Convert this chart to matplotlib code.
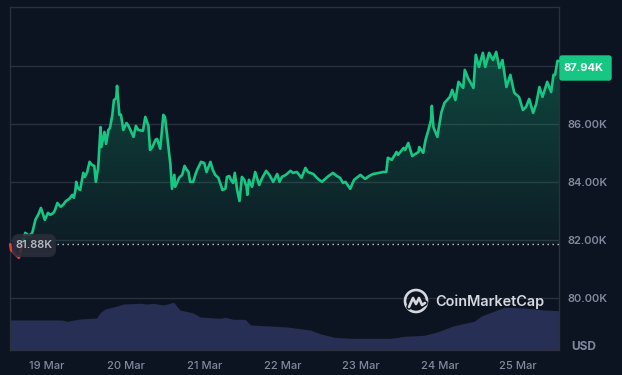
import numpy as np
import matplotlib
matplotlib.use("Agg")
import matplotlib.pyplot as plt
from matplotlib.patches import FancyBboxPatch, Rectangle, Arc

# time in days of March, price in thousand USD
days = [18.53, 18.54, 18.64, 18.68, 18.72, 18.77, 18.81, 18.85, 18.89, 18.92, 18.95, 18.97,
        19.01, 19.04, 19.08, 19.10, 19.13, 19.17, 19.20, 19.24, 19.28, 19.32, 19.34, 19.36,
        19.37, 19.39, 19.42, 19.46, 19.48, 19.51, 19.54, 19.57, 19.60, 19.62, 19.65, 19.68,
        19.69, 19.73, 19.75, 19.78, 19.80, 19.83, 19.85, 19.88, 19.89, 19.92, 19.94, 19.97,
        20.01, 20.03, 20.06, 20.10, 20.13, 20.16, 20.22, 20.25, 20.29, 20.31, 20.34, 20.38,
        20.40, 20.44, 20.48, 20.50, 20.53, 20.57, 20.59, 20.62, 20.63, 20.66, 20.68, 20.72,
        20.75, 20.77, 20.80, 20.82, 20.86, 20.89, 20.91, 20.96, 21.00, 21.03, 21.08, 21.11,
        21.14, 21.18, 21.22, 21.23, 21.27, 21.29, 21.32, 21.34, 21.37, 21.39, 21.42, 21.45,
        21.48, 21.51, 21.54, 21.55, 21.57, 21.61, 21.65, 21.68, 21.70, 21.74, 21.79, 21.83,
        21.88, 21.93, 21.96, 21.99, 22.04, 22.10, 22.13, 22.18, 22.24, 22.29, 22.32, 22.39,
        22.45, 22.50, 22.57, 22.64, 22.69, 22.73, 22.77, 22.80, 22.86, 22.91, 22.99, 23.05,
        23.10, 23.15, 23.23, 23.28, 23.32, 23.34, 23.39, 23.45, 23.47, 23.54, 23.56, 23.60,
        23.65, 23.73, 23.74, 23.79, 23.82, 23.85, 23.89, 23.90, 23.92, 23.97, 23.99, 24.02,
        24.06, 24.13, 24.16, 24.20, 24.24, 24.27, 24.30, 24.32, 24.36, 24.43, 24.46, 24.50,
        24.55, 24.58, 24.63, 24.68, 24.72, 24.76, 24.80, 24.85, 24.90, 24.95, 25.01, 25.06,
        25.10, 25.14, 25.19, 25.23, 25.27, 25.31, 25.37, 25.42, 25.45, 25.47, 25.50, 25.52]
prices = [81.85, 81.67, 81.40, 81.85, 82.26, 82.16, 82.26, 82.71, 82.91, 83.12, 82.88, 82.71,
          82.95, 82.88, 82.95, 83.05, 83.29, 83.16, 83.22, 83.36, 83.43, 83.57, 83.47, 83.74,
          84.02, 83.81, 83.74, 84.33, 84.19, 84.36, 84.71, 84.60, 84.57, 84.02, 84.53, 85.91,
          85.22, 85.74, 85.33, 85.81, 85.88, 86.33, 86.84, 86.91, 87.33, 86.33, 86.33, 85.81,
          86.05, 85.98, 85.81, 85.57, 85.95, 85.81, 85.78, 86.26, 85.95, 85.12, 85.22, 85.47,
          85.50, 85.16, 86.33, 86.26, 85.57, 84.60, 83.78, 84.26, 83.85, 84.02, 84.16, 84.26,
          84.57, 84.47, 84.36, 84.02, 84.02, 84.29, 84.43, 84.71, 84.67, 84.36, 84.71, 84.43,
          84.26, 84.16, 83.85, 83.74, 83.78, 84.19, 84.22, 84.09, 83.98, 84.33, 83.74, 83.36,
          84.19, 84.09, 83.85, 83.57, 84.09, 83.85, 84.36, 84.09, 83.91, 84.16, 84.40, 84.26,
          84.02, 84.29, 84.02, 84.19, 84.26, 84.40, 84.33, 84.36, 84.16, 84.50, 84.36, 84.29,
          84.12, 84.02, 84.19, 84.33, 84.22, 84.16, 83.98, 84.02, 83.78, 84.09, 84.26, 84.12,
          84.22, 84.29, 84.33, 84.36, 84.36, 84.85, 84.78, 85.05, 84.95, 85.19, 85.12, 85.36,
          84.91, 85.05, 85.22, 85.02, 85.47, 85.74, 86.16, 86.64, 85.91, 85.57, 85.91, 86.40,
          86.74, 86.95, 87.19, 86.84, 87.47, 87.36, 87.26, 87.88, 87.60, 87.26, 88.40, 87.98,
          88.47, 87.98, 88.47, 88.22, 88.50, 87.95, 88.22, 87.29, 87.71, 87.09, 86.95, 86.50,
          86.60, 86.88, 86.40, 86.71, 87.29, 86.95, 87.47, 87.12, 87.71, 87.71, 88.19, 88.19]
volume_days = [18.53, 19.19, 19.25, 19.42, 19.63, 19.68, 19.74, 19.89, 19.97, 20.18, 20.27, 20.35,
               20.48, 20.61, 20.69, 20.86, 20.95, 21.20, 21.27, 21.37, 21.52, 21.59, 21.84, 22.06,
               22.35, 22.49, 22.66, 22.87, 23.38, 23.55, 23.80, 23.98, 24.18, 24.44, 24.53, 24.69,
               24.82, 25.08, 25.33, 25.52]
volumes = [30, 30, 28.7, 31, 32, 37.7, 41, 44, 46, 46.7, 46, 46.7,
           45, 47.7, 40, 37, 33, 31.7, 32.7, 30.7, 30.7, 25, 24, 23,
           20, 16, 12.7, 11.7, 11.7, 13.7, 14.7, 18.3, 24.3, 28.7, 34, 38.7,
           42.7, 42, 40, 39.3]
baseline = 81.88
last_price = "87.94K"
price_ticks = [80, 82, 84, 86, 88]
price_labels = ["80.00K", "82.00K", "84.00K", "86.00K", ""]
day_ticks = [19, 20, 21, 22, 23, 24, 25]
day_labels = ["19 Mar", "20 Mar", "21 Mar", "22 Mar", "23 Mar", "24 Mar", "25 Mar"]

BG = "#0d1421"
GRID = "#2a303d"
TEXT = "#808a9d"
GREEN = "#16c784"
RED = "#ea3943"
W, H = 622, 375

plt.rcParams["font.family"] = ["Inter", "DejaVu Sans"]
fig = plt.figure(figsize=(W / 100, H / 100), dpi=100, facecolor=BG)
ax = fig.add_axes([9.5 / W, 1 - 350 / H, 549.5 / W, 343 / H], facecolor=BG)

# volume sits on its own scale at the bottom
vol_ax = ax.twinx()
vol_ax.set_ylim(0, 343)
vol_ax.axis("off")
vol_ax.fill_between(volume_days, 0, volumes, color="#282f54", linewidth=0, zorder=1)

ax.set_zorder(vol_ax.get_zorder() + 1)
ax.patch.set_visible(False)
vol_ax.patch.set_visible(False)

for s in ax.spines.values():
    s.set_color(GRID)
    s.set_linewidth(1)

ax.yaxis.tick_right()
ax.set_yticks(price_ticks, price_labels)
ax.set_xticks(day_ticks, day_labels)
ax.tick_params(axis="both", length=0, labelcolor=TEXT)
ax.tick_params(axis="y", pad=6, labelsize=8.0)
ax.tick_params(axis="x", pad=8, labelsize=8)
for t in ax.get_yticklabels():
    t.set_fontweight("semibold")
for t in ax.get_xticklabels():
    t.set_fontweight("medium")
ax.grid(axis="y", color=GRID, linewidth=1)
ax.set_axisbelow(True)

# gradient under the price line, only above the baseline
poly = ax.fill_between(days, baseline, np.maximum(prices, baseline), color="none", linewidth=0)
grad = np.zeros((256, 1, 4))
grad[:, 0, :3] = matplotlib.colors.to_rgb(GREEN)
grad[:, 0, 3] = np.linspace(0.30, 0.05, 256)
im = ax.imshow(grad, extent=[18.52, 25.52, baseline, 88.6], origin="upper", aspect="auto", zorder=2)
im.set_clip_path(poly.get_paths()[0], transform=ax.transData)
ax.set_xlim(18.52, 25.52)
ax.set_ylim(78.22, 90.05)
vol_ax.set_xlim(18.52, 25.52)

line_up, = ax.plot(days, prices, color=GREEN, linewidth=1.9, zorder=3, solid_joinstyle="round")
line_up.set_clip_path(Rectangle((18, baseline), 8, 12, transform=ax.transData))
line_down, = ax.plot(days, prices, color=RED, linewidth=1.9, zorder=3, solid_joinstyle="round")
line_down.set_clip_path(Rectangle((18, 70), 8, baseline - 70, transform=ax.transData))
ax.hlines(baseline, 19.12, 25.52, color="#c8ccd4", linewidth=1, linestyle=(0, (1, 2.6)), zorder=3)

# overlay in pixel units for the badges and the logo, above the price axes
over = fig.add_axes([0, 0, 1, 1])
over.set_zorder(ax.get_zorder() + 1)
over.set_xlim(0, W)
over.set_ylim(H, 0)
over.axis("off")

over.add_patch(FancyBboxPatch((560, 56), 51, 24, boxstyle="round,pad=0,rounding_size=2",
                              facecolor=GREEN, edgecolor=GREEN, linewidth=1))
over.text(583.5, 68.3, last_price, color="white", fontsize=8.0, fontweight="bold", ha="center", va="center")

over.add_patch(FancyBboxPatch((14, 236), 40, 19, boxstyle="round,pad=0,rounding_size=5",
                              facecolor="#2a2e3a", edgecolor="#2a2e3a", linewidth=3, alpha=0.85))
over.text(34, 245.5, "81.88K", color="#b4b8c2", fontsize=8.0, fontweight="semibold", ha="center", va="center")

over.text(584, 346.5, "USD", color=TEXT, fontsize=8.6, fontweight="bold", ha="center", va="center")

# CoinMarketCap mark
logo = "#d5d8de"
over.add_patch(Arc((416, 301), 22, 22, theta1=0, theta2=360, color=logo, linewidth=1.9))
over.plot([409, 413, 416, 419, 422, 425], [307, 298, 304, 298, 305, 303], color=BG, linewidth=4, solid_capstyle="round")
over.plot([409, 413, 416, 419, 422, 425], [307, 298, 304, 298, 305, 303], color=logo, linewidth=1.9, solid_capstyle="round")
over.text(435, 302, "CoinMarketCap", color=logo, fontsize=10.4, fontweight="semibold", ha="left", va="center")

fig.savefig("out.png", dpi=100, facecolor=BG)
